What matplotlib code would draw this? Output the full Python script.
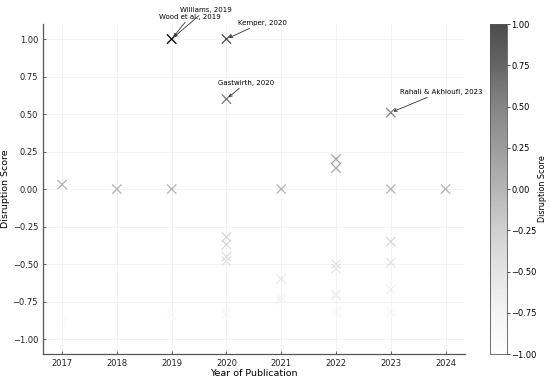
import numpy as np
import matplotlib
matplotlib.use("Agg")
import matplotlib.pyplot as plt

# publication year and disruption score of each paper
years = [2017, 2017,
         2018,
         2019, 2019, 2019, 2019,
         2020, 2020, 2020, 2020, 2020, 2020, 2020,
         2021, 2021, 2021, 2021,
         2022, 2022, 2022, 2022, 2022, 2022, 2022,
         2023, 2023, 2023, 2023, 2023, 2023,
         2024]
scores = [0.03, -0.89,
          0.00,
          1.00, 1.00, 0.00, -0.84,
          1.00, 0.60, -0.32, -0.37, -0.45, -0.48, -0.83,
          0.00, -0.60, -0.72, -0.74,
          0.20, 0.14, -0.50, -0.53, -0.70, -0.71, -0.82,
          0.51, 0.00, -0.35, -0.49, -0.67, -0.82,
          0.00]

# labelled papers: text, point, text position
labels = ["Williams, 2019", "Wood et al., 2019", "Kemper, 2020",
          "Gastwirth, 2020", "Rahali & Akhloufi, 2023"]
label_points = [(2019, 1.00), (2019, 1.00), (2020, 1.00), (2020, 0.60), (2023, 0.51)]
label_text_pos = [(2019.62, 1.195), (2019.33, 1.15), (2020.65, 1.11),
                  (2020.36, 0.71), (2023.92, 0.65)]

fig, ax = plt.subplots(figsize=(5.5, 3.82), dpi=100)
fig.subplots_adjust(left=0.078, right=0.845, bottom=0.073, top=0.937)

sc = ax.scatter(years, scores, c=scores, cmap="Greys", vmin=-1, vmax=1,
                marker="x", s=45, linewidths=0.9, alpha=0.7)

for txt, pt, tp in zip(labels, label_points, label_text_pos):
    ax.annotate(txt, xy=pt, xytext=tp, fontsize=5, ha="center", va="center",
                annotation_clip=False,
                arrowprops=dict(arrowstyle="->", color="#333333", lw=0.6,
                                shrinkA=0, shrinkB=2))

ax.set_ylim(-1.1, 1.1)
ax.set_xticks(range(2017, 2025))
ax.set_yticks([-1.0, -0.75, -0.5, -0.25, 0.0, 0.25, 0.5, 0.75, 1.0])
ax.grid(True, color="#eeeeee", linewidth=0.5)
ax.set_axisbelow(True)
ax.tick_params(direction="in", length=2, width=0.5, labelsize=6, colors="#222222")
for side in ["top", "right"]:
    ax.spines[side].set_visible(False)
for side in ["left", "bottom"]:
    ax.spines[side].set_color("#555555")
    ax.spines[side].set_linewidth(0.9)
ax.set_xlabel("Year of Publication", fontsize=6.8, labelpad=1)
ax.set_ylabel("Disruption Score", fontsize=6.8, labelpad=2)

cax = fig.add_axes([0.891, 0.073, 0.031, 0.864])
cb = fig.colorbar(sc, cax=cax)
cb.ax.tick_params(labelsize=6, length=2, width=0.5, pad=1)
cb.set_label("Disruption Score", fontsize=5.8, labelpad=1)
cb.outline.set_edgecolor("#555555")
cb.outline.set_linewidth(0.6)
cb.set_ticks([-1.0, -0.75, -0.5, -0.25, 0.0, 0.25, 0.5, 0.75, 1.0])

fig.savefig("out.png", dpi=100)
